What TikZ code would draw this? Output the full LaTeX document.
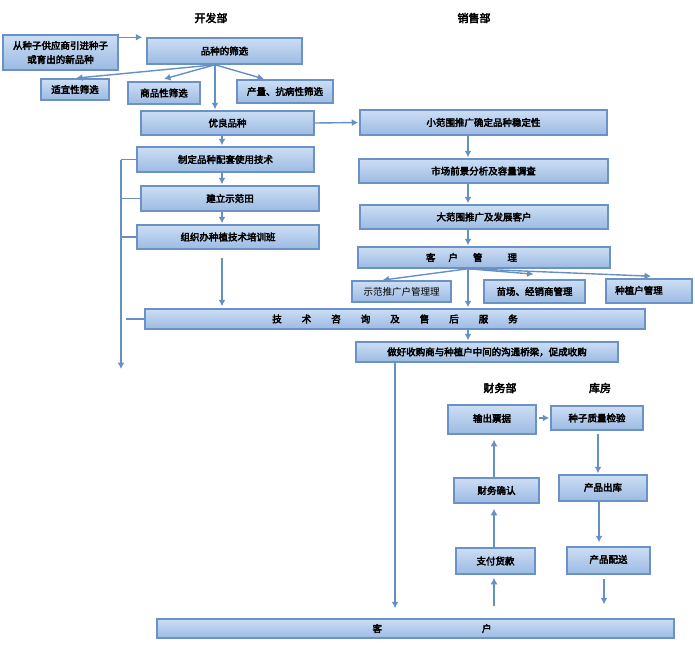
\documentclass[tikz,border=0pt]{standalone}
\usepackage{fontspec}
\setmainfont{Noto Sans CJK SC}[AutoFakeBold=3.5]
\usetikzlibrary{arrows.meta}
\definecolor{bfillA}{HTML}{CCDEF4}
\definecolor{bfillB}{HTML}{9CBAE2}
\definecolor{bedge}{HTML}{6A92C6}
\definecolor{arrc}{HTML}{6690C4}
\newcommand\gapA{\hspace{20pt}}
\begin{document}
\begin{tikzpicture}[x=1pt,y=-1pt,
 box/.style={draw=bedge, line width=1.5pt, top color=bfillA, bottom color=bfillB, inner sep=0pt, font=\fontsize{9.5}{14}\selectfont\bfseries, align=center, text=black},
 conn/.style={draw=arrc, line width=1.4pt},
 arr/.style={conn, shorten >=1pt, -{Latex[length=6.5pt,width=7pt]}},
 hdr/.style={font=\fontsize{11}{13}\selectfont\bfseries}]
\fill[white] (0,0) rectangle (695,645);
\useasboundingbox (0,0) rectangle (695,645);
% headers
\node[hdr] (h1) at (211,18) {开发部};
\node[hdr] (h2) at (474,18) {销售部};
\node[hdr] (h3) at (500,388) {财务部};
\node[hdr] (h4) at (600,388) {库房};
% development column
\node[box, minimum width=115pt, minimum height=35pt] (b1) at (60.5,52.5) {从种子供应商引进种子\\或育出的新品种};
\node[box, minimum width=155pt, minimum height=26pt] (b2) at (224.5,51) {品种的筛选};
\node[box, minimum width=68pt, minimum height=21pt] (b3) at (75,89.5) {适宜性筛选};
\node[box, minimum width=72pt, minimum height=22pt] (b4) at (164,93) {商品性筛选};
\node[box, minimum width=96pt, minimum height=23pt] (b5) at (285,91.5) {产量、抗病性筛选};
\node[box, minimum width=173pt, minimum height=24pt] (b6) at (227.5,123) {优良品种};
\node[box, minimum width=177pt, minimum height=25pt] (b7) at (225.5,159.5) {制定品种配套使用技术};
\node[box, minimum width=178pt, minimum height=25pt] (b8) at (230,198.5) {建立示范田};
\node[box, minimum width=182pt, minimum height=24pt] (b9) at (228,237) {组织办种植技术培训班};
\node[box, minimum width=500pt, minimum height=20pt] (b10) at (395,319) {技\gapA 术\gapA 咨\gapA 询\gapA 及\gapA 售\gapA 后\gapA 服\gapA 务};
% sales column
\node[box, minimum width=247pt, minimum height=25pt] (b11) at (483.5,122.5) {小范围推广确定品种稳定性};
\node[box, minimum width=249pt, minimum height=24pt] (b12) at (483.5,171) {市场前景分析及容量调查};
\node[box, minimum width=248pt, minimum height=24pt] (b13) at (484,217) {大范围推广及发展客户};
\node[box, minimum width=252pt, minimum height=21pt] (b14) at (484,257.5) {客\hspace{13pt}户\hspace{15pt}管\hspace{25pt}理\hspace*{25pt}};
\node[box, minimum width=99pt, minimum height=21pt, font=\fontsize{9.5}{14}\selectfont] (b15) at (401.5,291.5) {示范推广户管理理};
\node[box, minimum width=101pt, minimum height=23pt] (b16) at (534.5,291.5) {苗场、经销商管理};
\node[box, minimum width=86pt, minimum height=24pt] (b17) at (649,291) {\raisebox{2pt}{种植户管理}\hspace*{20pt}};
\node[box, minimum width=262pt, minimum height=20pt] (b18) at (487,352) {做好收购商与种植户中间的沟通桥梁，促成收购};
% finance and warehouse
\node[box, minimum width=88pt, minimum height=29pt] (b19) at (492,419.5) {\raisebox{3pt}{输出票据}};
\node[box, minimum width=92pt, minimum height=24pt] (b20) at (597,418) {种子质量检验};
\node[box, minimum width=85pt, minimum height=25pt] (b21) at (496.5,490.5) {财务确认};
\node[box, minimum width=88pt, minimum height=26pt] (b22) at (603,488) {\raisebox{2pt}{产品出库}};
\node[box, minimum width=79pt, minimum height=26pt] (b23) at (495.5,561) {支付货款};
\node[box, minimum width=83pt, minimum height=27pt] (b24) at (608.5,560.5) {\raisebox{3pt}{产品配送}};
\node[box, minimum width=517pt, minimum height=19pt] (b25) at (415.5,628.5) {\hspace*{33pt}客\hspace{100pt}户};
% connectors: development
\draw[arr, shorten >=4pt] (b1.east |- b2.north) -- (b2.north west);
\coordinate (f0) at ([xshift=-9.5pt]b2.south);
\draw[arr] (f0) -- (b3.north);
\draw[arr] (f0) -- ([xshift=-1pt,yshift=2pt]b4.north);
\draw[arr] (f0) -- ([xshift=-20pt]b5.north);
\draw[arr] (f0) -- (f0 |- b6.north);
\coordinate (c1) at ([xshift=-5.5pt]b6.south);
\draw[arr] (c1) -- (c1 |- b7.north);
\draw[arr] (c1 |- b7.south) -- (c1 |- b8.north);
\draw[arr] (c1 |- b8.south) -- (c1 |- b9.north);
\draw[arr, shorten <=8pt, shorten >=2pt] (c1 |- b9.south) -- (c1 |- b10.north);
\coordinate (L) at (121,370);
\draw[conn] (b7.west) -- (b7.west -| L);
\draw[arr] (b7.west -| L) -- (L);
\draw[conn] (b8.west) -- (b8.west -| L);
\draw[conn] (b9.west) -- (b9.west -| L);
\draw[conn] ([xshift=-18pt]b10.west) -- (b10.west);
% connectors: sales
\draw[arr] (b6.east) -- (b11.west);
\coordinate (F) at ([xshift=-16pt]b14.south);
\draw[arr] (F |- b11.south) -- (F |- b12.north);
\draw[arr] (F |- b12.south) -- (F |- b13.north);
\draw[arr] (F |- b13.south) -- (F |- b14.north);
\draw[arr] (F) -- ([xshift=-20pt]b15.north);
\draw[arr] (F) -- ([yshift=5pt]b16.north);
\draw[arr] (F) -- ([xshift=3pt,yshift=2pt]b17.north);
\draw[arr] (F) -- (F |- b10.north);
\draw[arr] (F |- b10.south) -- (F |- b18.north);
\draw[arr, shorten >=10pt] ([xshift=-92pt]b18.south) -- ([xshift=-92pt]b18.south |- b25.north);
% connectors: finance and warehouse
\draw[arr, shorten <=12pt, shorten >=3pt] ([xshift=-1.5pt]b23.south |- b25.north) -- ([xshift=-1.5pt]b23.south);
\draw[arr, shorten >=5pt] ([xshift=-1.5pt]b23.north) -- ([xshift=-1.5pt]b23.north |- b21.south);
\draw[arr, shorten >=5pt] ([xshift=-2.5pt]b21.north) -- ([xshift=-2.5pt]b21.north |- b19.south);
\draw[arr, shorten <=2pt] (b19.east |- b20.center) -- (b20.west);
\draw[arr, shorten <=3pt] ([xshift=1pt]b20.south) -- ([xshift=1pt]b20.south |- b22.north);
\draw[arr, shorten >=4pt] ([xshift=-4pt]b22.south) -- ([xshift=-4pt]b22.south |- b24.north);
\draw[arr, shorten <=4pt, shorten >=14pt] ([xshift=-4.5pt]b24.south) -- ([xshift=-4.5pt]b24.south |- b25.north);
\end{tikzpicture}
\end{document}
